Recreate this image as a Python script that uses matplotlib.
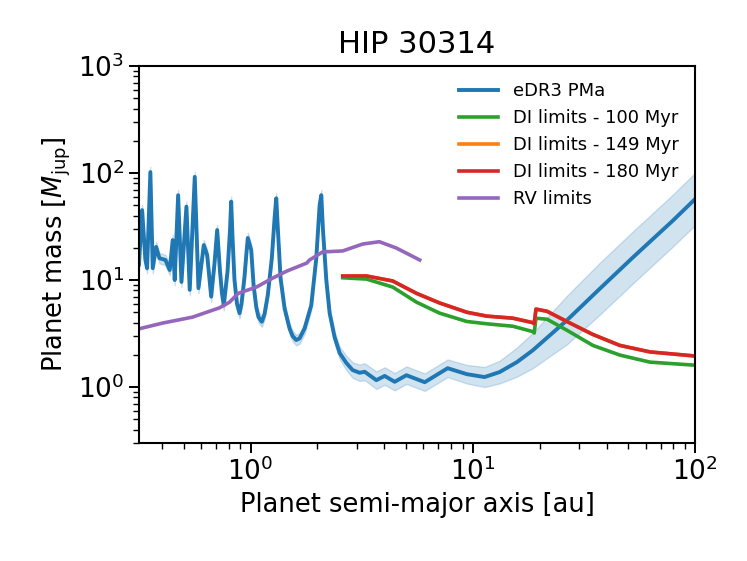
import numpy as np
import matplotlib
matplotlib.use("Agg")
import matplotlib.pyplot as plt

# ============================================================================
# DATA
# ============================================================================

# eDR3 proper-motion anomaly sensitivity curve [au, M_jup]
PMA_A = [0.315, 0.3194, 0.3253, 0.3365, 0.3425, 0.3543, 0.3630, 0.3759, 0.3892,
         0.4141, 0.4330, 0.4467, 0.4560, 0.4724, 0.4889, 0.5148, 0.5327, 0.5612,
         0.5830, 0.6162, 0.6383, 0.6653, 0.688, 0.7079, 0.729, 0.744, 0.7579,
         0.788, 0.809, 0.8185, 0.830, 0.847, 0.869, 0.8923, 0.911, 0.9396,
         0.959, 0.9723, 1.0073, 1.032, 1.061, 1.086, 1.1244, 1.156, 1.196,
         1.247, 1.283, 1.3054, 1.327, 1.365, 1.423, 1.498, 1.546, 1.6066,
         1.663, 1.751, 1.877, 1.9766, 2.046, 2.082, 2.117, 2.193, 2.270,
         2.389, 2.518, 2.698, 2.881, 3.097, 3.262, 3.683, 4.015, 4.453,
         5.028, 6.08, 7.71, 9.40, 11.3, 13.2, 15.8, 18.6, 26.5, 37.3, 52.6,
         79.6, 100.0]
PMA_M = [14, 23.6, 45, 15.4, 12.9, 102, 12.9, 20.4, 16,
         15.4, 12.4, 23.6, 10, 62, 9.6, 48.5, 8.1, 92,
         8.4, 21.2, 17.1, 7.0, 14, 29.3, 12, 7.5, 5.8,
         12, 30, 54, 25, 10, 6, 4.9, 6, 10.7,
         18, 24.7, 19.1, 9, 5.6, 4.5, 4.08, 4.8, 7.25,
         16, 37.7, 58, 30.3, 10.4, 5.44, 3.53, 3.0, 2.75,
         2.85, 3.53, 5.84, 16, 50, 62, 30, 10, 4.9,
         2.93, 2.08, 1.68, 1.44, 1.36, 1.39, 1.16, 1.27, 1.12,
         1.29, 1.11, 1.50, 1.32, 1.24, 1.38, 1.71, 2.2, 4.2, 8.3, 16.3,
         36, 57]
PMA_LO = [12.5, 21, 40, 13.7, 11.5, 91, 11.5, 18.2, 14.3,
          13.7, 11.1, 21, 8.9, 55, 8.6, 43.3, 7.2, 82,
          7.5, 18.9, 15.3, 6.25, 12.5, 26.2, 10.7, 6.7, 5.18,
          10.7, 26.8, 48.2, 22.3, 8.9, 5.36, 4.37, 5.36, 9.55,
          16.1, 22, 17.1, 8.04, 5.0, 4.02, 3.64, 4.29, 6.47,
          14.3, 33.7, 51.8, 27.1, 9.29, 4.86, 3.15, 2.68, 2.45,
          2.54, 3.15, 5.21, 14.3, 44.6, 55.4, 26.8, 8.9, 4.37,
          2.6, 1.82, 1.44, 1.22, 1.14, 1.16, 0.96, 1.05, 0.93,
          1.07, 0.92, 1.24, 1.08, 1.0, 1.08, 1.25, 1.5, 2.5, 4.75, 9.3,
          20.6, 32.5]
PMA_HI = [15.7, 26.4, 50.5, 17.2, 14.5, 114, 14.5, 22.8, 17.9,
          17.2, 13.9, 26.4, 11.2, 69.5, 10.8, 54.3, 9.1, 103,
          9.4, 23.7, 19.2, 7.85, 15.7, 32.8, 13.4, 8.4, 6.5,
          13.4, 33.6, 60.5, 28, 11.2, 6.72, 5.49, 6.72, 12,
          20.2, 27.7, 21.4, 10.1, 6.27, 5.04, 4.57, 5.38, 8.12,
          17.9, 42.2, 65, 33.9, 11.65, 6.09, 3.95, 3.36, 3.08,
          3.19, 3.95, 6.54, 17.9, 56, 69.4, 33.6, 11.2, 5.49,
          3.3, 2.38, 1.96, 1.7, 1.62, 1.67, 1.4, 1.53, 1.35,
          1.56, 1.34, 1.81, 1.61, 1.54, 1.76, 2.34, 3.2, 7.1, 14.5, 28.5,
          63, 100]

# direct imaging limits
DI_A = [2.60, 3.33, 4.36, 5.59, 7.10, 9.40, 11.56, 15.15, 18.6, 18.9,
        19.25, 21.6, 26.5, 34.7, 45.9, 62.7, 100.0]
DI_100_M = [10.5, 10.2, 8.6, 6.2, 4.9, 4.1, 3.9, 3.7, 3.3, 3.2,
            4.4, 4.3, 3.4, 2.45, 1.99, 1.71, 1.6]
DI_180_M = [10.9, 10.9, 9.8, 7.5, 6.1, 5.0, 4.6, 4.4, 4.0, 3.9,
            5.35, 5.1, 4.1, 3.1, 2.45, 2.13, 1.95]
DI_149_M = DI_180_M  # hidden underneath the 180 Myr curve

# radial velocity limits
RV_A = [0.315, 0.402, 0.548, 0.725, 0.804, 0.88, 0.911, 1.064, 1.256, 1.453,
        1.79, 1.8446, 2.11, 2.60, 3.20, 3.80, 4.53, 5.77]
RV_M = [3.5, 3.96, 4.5, 5.5, 6.2, 7.5, 7.7, 8.6, 10.4, 12.1,
        14.4, 15.4, 18.3, 18.7, 21.7, 22.8, 19.9, 15.4]

TITLE = "HIP 30314"

# ============================================================================
# PLOT
# ============================================================================

def main():
    fig = plt.figure(figsize=(7.47, 5.61), dpi=100)
    ax = fig.add_axes([0.1861, 0.2103, 0.7443, 0.6721])

    ax.fill_between(PMA_A, PMA_LO, PMA_HI, color='tab:blue', alpha=0.2)
    ax.plot(PMA_A, PMA_M, color='tab:blue', lw=2.8, label='eDR3 PMa')
    ax.plot(DI_A, DI_100_M, color='tab:green', lw=2.6, label='DI limits - 100 Myr')
    ax.plot(DI_A, DI_149_M, color='tab:orange', lw=2.6, label='DI limits - 149 Myr')
    ax.plot(DI_A, DI_180_M, color='tab:red', lw=2.6, label='DI limits - 180 Myr')
    ax.plot(RV_A, RV_M, color='tab:purple', lw=2.6, label='RV limits')

    ax.set_xscale('log')
    ax.set_yscale('log')
    ax.set_xlim(0.315, 100)
    ax.set_ylim(0.3, 1000)

    ax.set_title(TITLE, fontsize=22, pad=9)
    ax.set_xlabel('Planet semi-major axis [au]', fontsize=18.5)
    ax.set_ylabel(r'Planet mass [$M_{\rm jup}$]', fontsize=18.5)
    ax.tick_params(axis='both', which='major', labelsize=19, length=7, width=1.4)
    ax.tick_params(axis='both', which='minor', length=4, width=1.0)
    for sp in ax.spines.values():
        sp.set_linewidth(1.5)

    ax.legend(loc='upper right', frameon=False, fontsize=13, handlelength=2.2)

    fig.savefig('out.png', dpi=100)
    plt.close(fig)


if __name__ == '__main__':
    main()
